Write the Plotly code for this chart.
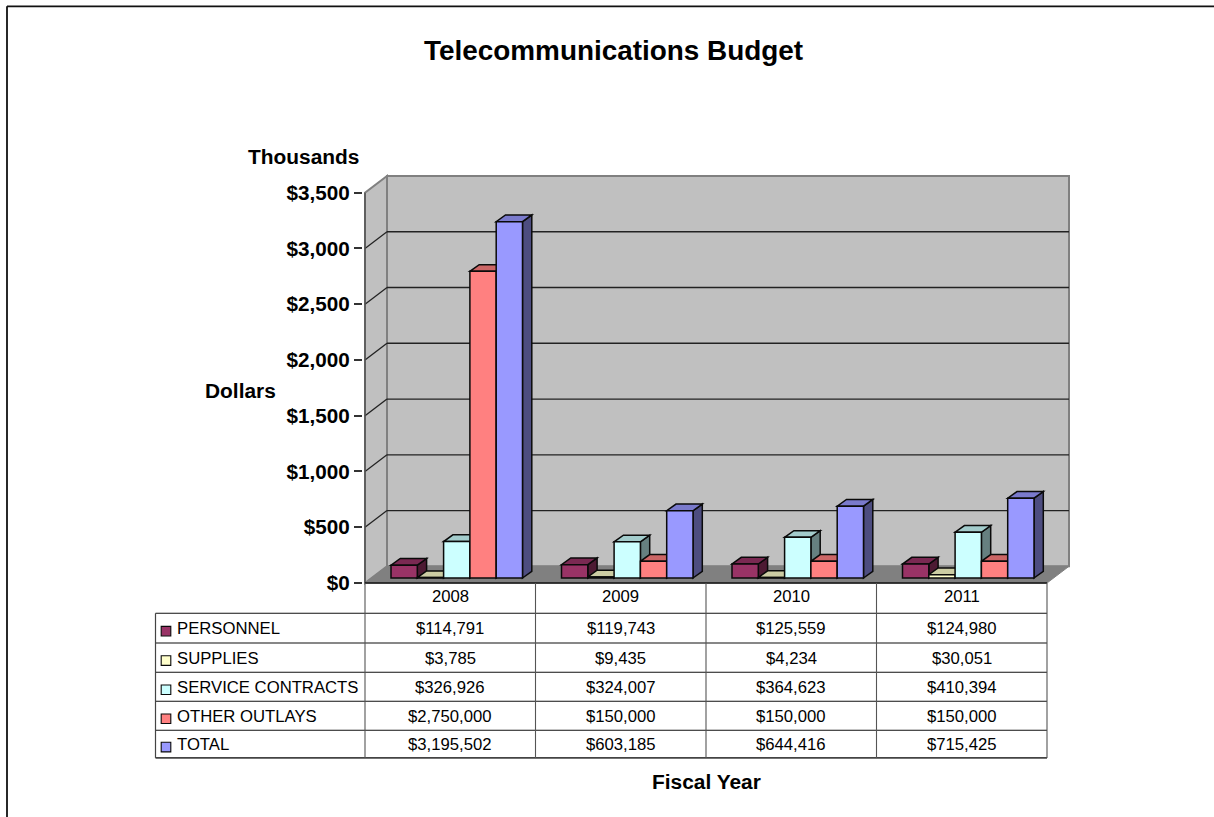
import plotly.graph_objects as go

YEARS = ["2008", "2009", "2010", "2011"]
PERSONNEL = [114791, 119743, 125559, 124980]
SUPPLIES = [3785, 9435, 4234, 30051]
SERVICE_CONTRACTS = [326926, 324007, 364623, 410394]
OTHER_OUTLAYS = [2750000, 150000, 150000, 150000]
TOTAL = [3195502, 603185, 644416, 715425]
SERIES_NAMES = ["PERSONNEL", "SUPPLIES", "SERVICE CONTRACTS", "OTHER OUTLAYS", "TOTAL"]
SERIES_VALUES = [PERSONNEL, SUPPLIES, SERVICE_CONTRACTS, OTHER_OUTLAYS, TOTAL]
FRONT_COLORS = ["#993366", "#FFFFCC", "#CCFFFF", "#FF8080", "#9999FF"]
TOP_COLORS = ["#7A2952", "#CCCCA3", "#A3CCCC", "#CC6666", "#7A7ACC"]
SIDE_COLORS = ["#4D1A33", "#808066", "#668080", "#804040", "#4D4D80"]
Y_TICKS = [0, 500, 1000, 1500, 2000, 2500, 3000, 3500]

WIDTH, HEIGHT = 1214, 817
FONT = "Liberation Sans"
INK = "#0A0A0A"

# Screen layout of the pseudo-3D box, in pixels
LEFT, RIGHT = 365.0, 1047.0      # front edge of the floor
ZERO, TOP = 583.0, 192.5         # front y positions of $0 and $3,500
WALL_DX, WALL_DY = 22.0, 16.7    # offset of the back wall from the front plane
PAD = 2.0                        # spare room so edge strokes are not clipped

CAT_PX = (RIGHT - LEFT) / len(YEARS)
Y_PX = (ZERO - TOP) / Y_TICKS[-1]
BAR_START, BAR_W = 26.0, 26.3    # first bar offset and bar width inside a category
BAR_LIFT = 5.0                   # front plane of the bars above the floor edge
BAR_DX, BAR_DY = 9.3, 6.7        # bar depth

plot_l, plot_r = LEFT - PAD, RIGHT + WALL_DX + PAD
plot_t, plot_b = TOP - WALL_DY - PAD, ZERO + PAD


def dx(px):
    return px / CAT_PX


def dy(px):
    return px / Y_PX


def paper_x(px):
    return (px - plot_l) / (plot_r - plot_l)


def paper_y(px):
    return (plot_b - px) / (plot_b - plot_t)


def data_path(points):
    return "M " + " L ".join(f"{x:.5f} {y:.3f}" for x, y in points) + " Z"


shapes = []
wall_x0, wall_x1 = dx(WALL_DX), len(YEARS) + dx(WALL_DX)
wall_low, wall_high = dy(WALL_DY), Y_TICKS[-1] + dy(WALL_DY)

# Back wall, side wall and floor
shapes.append(dict(type="path", layer="below", fillcolor="#C0C0C0", line=dict(color="#808080", width=2),
                   path=data_path([(wall_x0, wall_low), (wall_x1, wall_low), (wall_x1, wall_high), (wall_x0, wall_high)])))
shapes.append(dict(type="path", layer="below", fillcolor="#C0C0C0", line=dict(color="#808080", width=2),
                   path=data_path([(0, 0), (wall_x0, wall_low), (wall_x0, wall_high), (0, Y_TICKS[-1])])))
shapes.append(dict(type="path", layer="below", fillcolor="#808080", line=dict(color="#808080", width=1),
                   path=data_path([(0, 0), (len(YEARS), 0), (wall_x1, wall_low), (wall_x0, wall_low)])))

# Gridlines run along the back wall and down the side wall
for tick in Y_TICKS[1:-1]:
    shapes.append(dict(type="line", layer="below", x0=wall_x0, x1=wall_x1, y0=tick + wall_low, y1=tick + wall_low,
                       line=dict(color="#222222", width=1.3)))
    shapes.append(dict(type="line", layer="below", x0=0, x1=wall_x0, y0=tick, y1=tick + wall_low,
                       line=dict(color="#222222", width=1.3)))

# Bar tops and sides, painted left to right; the front faces are bar traces above them
for cat in range(len(YEARS)):
    for s, values in enumerate(SERIES_VALUES):
        h = values[cat] / 1000
        left = cat + dx(BAR_START + s * BAR_W)
        right = left + dx(BAR_W)
        base = dy(BAR_LIFT)
        top = base + h
        ddx, ddy = dx(BAR_DX), dy(BAR_DY)
        shapes.append(dict(type="path", layer="below", fillcolor=SIDE_COLORS[s], line=dict(color=INK, width=1.5),
                           path=data_path([(right, base), (right + ddx, base + ddy), (right + ddx, top + ddy), (right, top)])))
        shapes.append(dict(type="path", layer="below", fillcolor=TOP_COLORS[s], line=dict(color=INK, width=1.5),
                           path=data_path([(left, top), (right, top), (right + ddx, top + ddy), (left + ddx, top + ddy)])))

# Outer chart frame
for x0, y0, x1, y1 in [(7, 6, WIDTH, 6), (7, 6, 7, HEIGHT)]:
    shapes.append(dict(type="line", xref="paper", yref="paper", x0=paper_x(x0), x1=paper_x(x1),
                       y0=paper_y(y0), y1=paper_y(y1), line=dict(color="#111111", width=1.8)))

# Front vertical axis
shapes.append(dict(type="line", xref="paper", yref="paper", x0=paper_x(LEFT), x1=paper_x(LEFT),
                   y0=paper_y(TOP), y1=paper_y(ZERO), line=dict(color="#555555", width=1.5)))

# Data table rules
TABLE_LEFT = 155.5
ROW_LINES = [583.0, 613.3, 643.0, 672.3, 701.3, 730.3, 758.0]
col_lines = [LEFT + i * CAT_PX for i in range(len(YEARS) + 1)]
for i, y in enumerate(ROW_LINES):
    x0 = LEFT if i == 0 else TABLE_LEFT
    shapes.append(dict(type="line", xref="paper", yref="paper", x0=paper_x(x0), x1=paper_x(RIGHT),
                       y0=paper_y(y), y1=paper_y(y), line=dict(color="#111111" if i < 6 else "#444444", width=1.6 if i in (0, 6) else 1.1)))
shapes.append(dict(type="line", xref="paper", yref="paper", x0=paper_x(TABLE_LEFT), x1=paper_x(TABLE_LEFT),
                   y0=paper_y(ROW_LINES[1]), y1=paper_y(ROW_LINES[-1]), line=dict(color="#444444", width=1.2)))
for x in col_lines:
    shapes.append(dict(type="line", xref="paper", yref="paper", x0=paper_x(x), x1=paper_x(x),
                       y0=paper_y(ROW_LINES[0]), y1=paper_y(ROW_LINES[-1]), line=dict(color="#555555", width=1.1)))

# Legend keys inside the table's first column
annotations = []
for s, name in enumerate(SERIES_NAMES):
    mid = (ROW_LINES[s + 1] + ROW_LINES[s + 2]) / 2
    shapes.append(dict(type="rect", xref="paper", yref="paper", x0=paper_x(161.2), x1=paper_x(170.8),
                       y0=paper_y(mid + 3.0 + 4.8), y1=paper_y(mid + 3.0 - 4.8), fillcolor=FRONT_COLORS[s],
                       line=dict(color=INK, width=1.1)))
    annotations.append(dict(xref="paper", yref="paper", x=paper_x(174.5), y=paper_y(mid + 0.8), text=name,
                            showarrow=False, xanchor="left", yanchor="middle",
                            font=dict(family=FONT, size=16.7, color="#000000")))

# Table cell texts
for i, year in enumerate(YEARS):
    cx = LEFT + (i + 0.5) * CAT_PX
    annotations.append(dict(xref="paper", yref="paper", x=paper_x(cx), y=paper_y(597), text=year, showarrow=False,
                            xanchor="center", yanchor="middle", font=dict(family=FONT, size=16.7, color="#000000")))
    for s, values in enumerate(SERIES_VALUES):
        mid = (ROW_LINES[s + 1] + ROW_LINES[s + 2]) / 2
        annotations.append(dict(xref="paper", yref="paper", x=paper_x(cx), y=paper_y(mid + 0.8), text=f"${values[i]:,}",
                                showarrow=False, xanchor="center", yanchor="middle",
                                font=dict(family=FONT, size=16.7, color="#000000")))

# Chart and axis captions
for text, x, y, size in [("Telecommunications Budget", 613.5, 50, 27.9),
                         ("Thousands", 303.5, 156, 20.9),
                         ("Dollars", 240, 390, 20.9),
                         ("Fiscal Year", 706.5, 782, 20.9)]:
    annotations.append(dict(xref="paper", yref="paper", x=paper_x(x), y=paper_y(y), text=f"<b>{text}</b>", showarrow=False,
                            xanchor="center", yanchor="middle", font=dict(family=FONT, size=size, color="#000000")))

fig = go.Figure()
for s, name in enumerate(SERIES_NAMES):
    fig.add_trace(go.Bar(
        name=name,
        x=[i for i in range(len(YEARS))],
        y=[v / 1000 for v in SERIES_VALUES[s]],
        base=dy(BAR_LIFT),
        offset=dx(BAR_START + s * BAR_W),
        width=dx(BAR_W),
        marker=dict(color=FRONT_COLORS[s], line=dict(color=INK, width=1.5)),
        cliponaxis=False,
    ))

fig.update_layout(
    width=WIDTH, height=HEIGHT,
    margin=dict(l=plot_l, r=WIDTH - plot_r, t=plot_t, b=HEIGHT - plot_b, pad=0, autoexpand=False),
    paper_bgcolor="white", plot_bgcolor="rgba(0,0,0,0)",
    barmode="overlay", showlegend=False,
    shapes=shapes, annotations=annotations,
    xaxis=dict(visible=False, range=[-dx(PAD), len(YEARS) + dx(WALL_DX + PAD)], fixedrange=True),
    yaxis=dict(range=[-dy(PAD), Y_TICKS[-1] + dy(WALL_DY + PAD)], tickvals=Y_TICKS,
               ticktext=[f"<b>${t:,}</b>" for t in Y_TICKS], ticks="outside", ticklen=8, tickwidth=1.5,
               tickcolor="#333333", showgrid=False, zeroline=False, showline=False,
               tickfont=dict(family=FONT, size=20.7, color="#000000"), fixedrange=True),
)
fig.write_html("out.html")
